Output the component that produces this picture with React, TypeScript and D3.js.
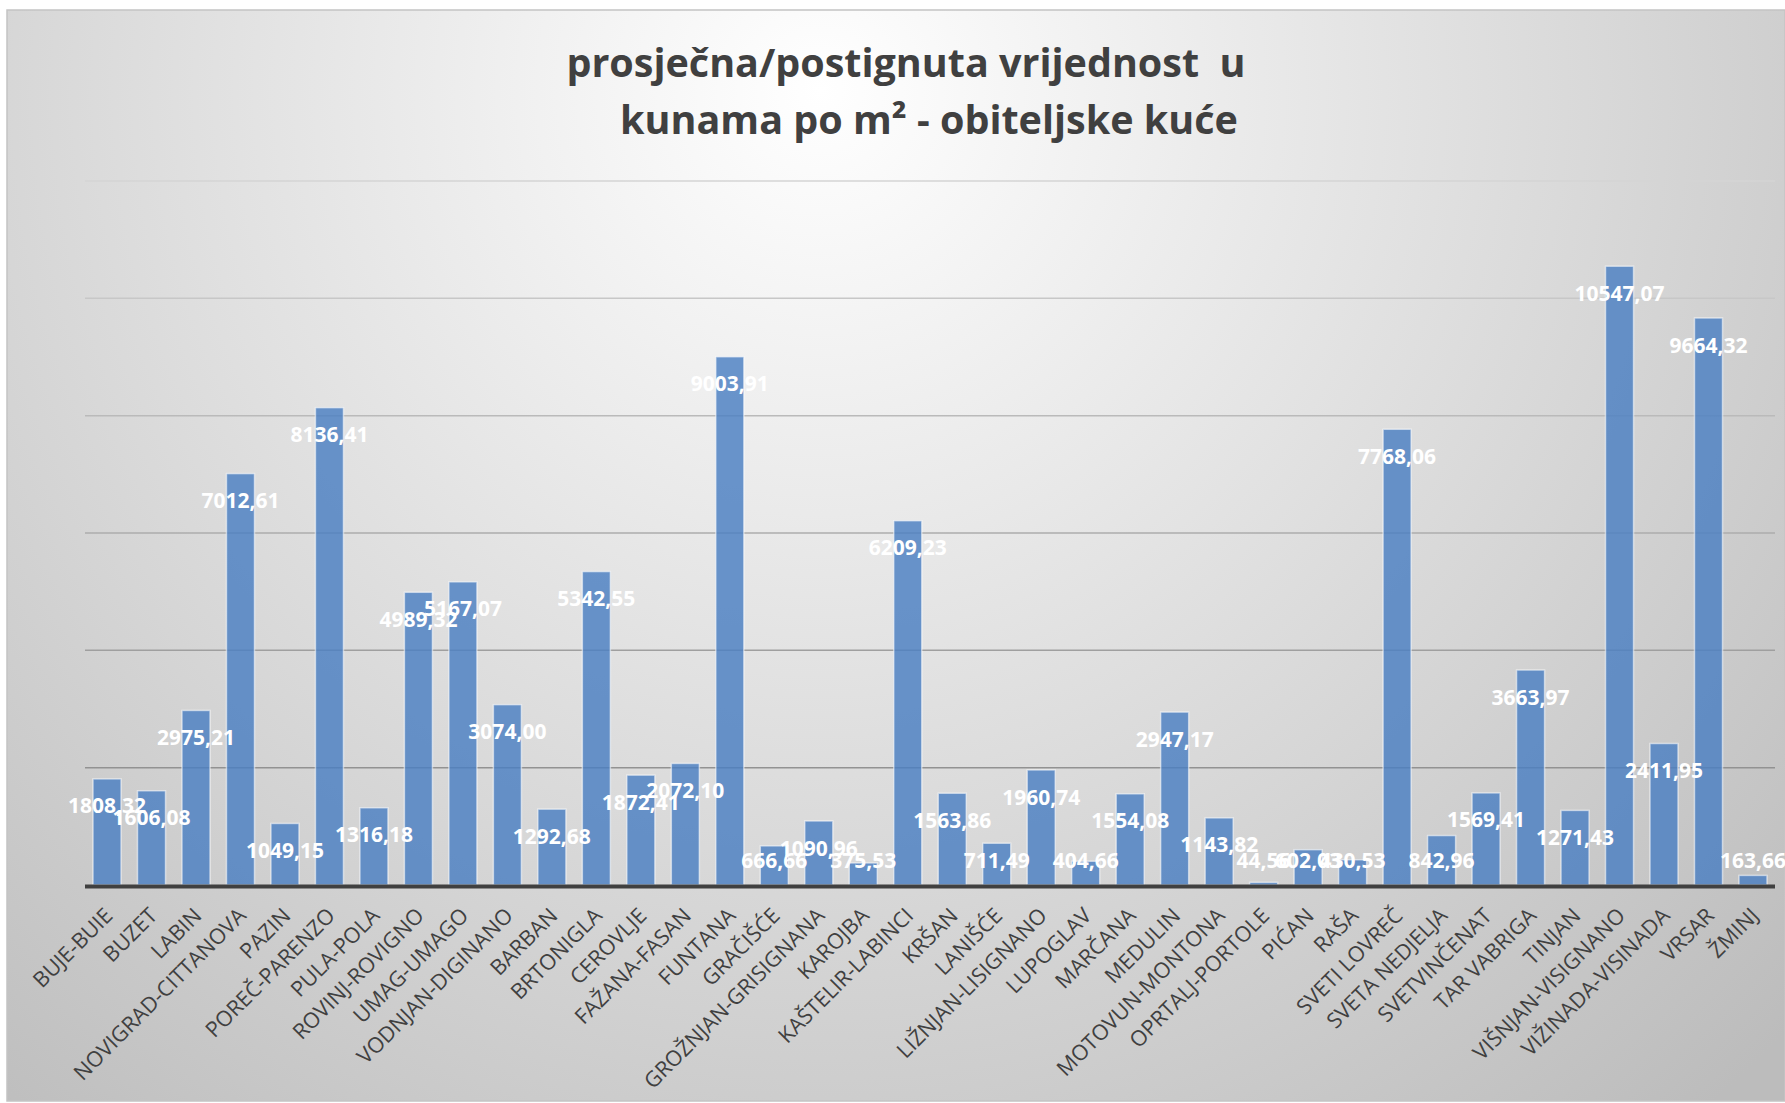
import React, { useEffect, useRef } from "react";
import * as d3 from "d3";

const municipalities = [
  "BUJE-BUIE", "BUZET", "LABIN", "NOVIGRAD-CITTANOVA", "PAZIN", "POREČ-PARENZO",
  "PULA-POLA", "ROVINJ-ROVIGNO", "UMAG-UMAGO", "VODNJAN-DIGINANO", "BARBAN",
  "BRTONIGLA", "CEROVLJE", "FAŽANA-FASAN", "FUNTANA", "GRAČIŠĆE",
  "GROŽNJAN-GRISIGNANA", "KAROJBA", "KAŠTELIR-LABINCI", "KRŠAN", "LANIŠĆE",
  "LIŽNJAN-LISIGNANO", "LUPOGLAV", "MARČANA", "MEDULIN", "MOTOVUN-MONTONA",
  "OPRTALJ-PORTOLE", "PIĆAN", "RAŠA", "SVETI LOVREČ", "SVETA NEDJELJA",
  "SVETVINČENAT", "TAR VABRIGA", "TINJAN", "VIŠNJAN-VISIGNANO",
  "VIŽINADA-VISINADA", "VRSAR", "ŽMINJ"
];

const pricePerM2 = [
  1808.32, 1606.08, 2975.21, 7012.61, 1049.15, 8136.41,
  1316.18, 4989.32, 5167.07, 3074.0, 1292.68,
  5342.55, 1872.41, 2072.1, 9003.91, 666.66,
  1090.96, 375.53, 6209.23, 1563.86, 711.49,
  1960.74, 404.66, 1554.08, 2947.17, 1143.82,
  44.56, 602.03, 430.53, 7768.06, 842.96,
  1569.41, 3663.97, 1271.43, 10547.07,
  2411.95, 9664.32, 163.66
];

const yTicks = [0, 2000, 4000, 6000, 8000, 10000, 12000];

const titleLines = ["prosječna/postignuta vrijednost  u", "kunama po m² - obiteljske kuće"];

const W = 1785, H = 1103;
const plot = { left: 85, right: 1775, top: 181, bottom: 885 };

export default function App() {
  const svgRef = useRef(null);

  useEffect(() => {
    const svg = d3.select(svgRef.current);
    svg.selectAll("*").remove();

    const defs = svg.append("defs");
    const bg = defs.append("radialGradient")
      .attr("id", "bgGrad")
      .attr("gradientUnits", "userSpaceOnUse")
      .attr("cx", 820).attr("cy", 90).attr("r", 1350);
    bg.append("stop").attr("offset", 0).attr("stop-color", "#ffffff");
    bg.append("stop").attr("offset", 1).attr("stop-color", "#bcbcbc");

    svg.append("rect")
      .attr("x", 7).attr("y", 10)
      .attr("width", W - 7).attr("height", H - 12)
      .attr("fill", "url(#bgGrad)")
      .attr("stroke", "#c4c4c4")
      .attr("stroke-width", 1.5);

    const x = d3.scaleBand()
      .domain(municipalities)
      .range([plot.left, plot.right])
      .paddingInner(0.37)
      .paddingOuter(0.18);
    const y = d3.scaleLinear()
      .domain([0, 12000])
      .range([plot.bottom, plot.top]);

    // gridlines get lighter towards the top
    const gridColor = d3.scaleLinear<string>()
      .domain([0, 12000])
      .range(["#858585", "#d4d4d4"])
      .interpolate(d3.interpolateRgb);

    svg.append("g")
      .selectAll("line")
      .data(yTicks.filter(t => t > 0))
      .join("line")
      .attr("x1", plot.left).attr("x2", plot.right)
      .attr("y1", d => y(d)).attr("y2", d => y(d))
      .attr("stroke", d => gridColor(d))
      .attr("stroke-width", 1.5);

    svg.append("g")
      .selectAll("rect")
      .data(pricePerM2)
      .join("rect")
      .attr("x", (d, i) => x(municipalities[i]))
      .attr("y", d => y(d))
      .attr("width", x.bandwidth())
      .attr("height", d => plot.bottom - y(d))
      .attr("fill", "#4a7fc2")
      .attr("fill-opacity", 0.82)
      .attr("stroke", "rgba(255,255,255,0.55)")
      .attr("stroke-width", 1.5);

    // x axis line
    svg.append("line")
      .attr("x1", plot.left).attr("x2", plot.right)
      .attr("y1", plot.bottom + 1.5).attr("y2", plot.bottom + 1.5)
      .attr("stroke", "#404040")
      .attr("stroke-width", 4);

    svg.append("g")
      .selectAll("text")
      .data(municipalities)
      .join("text")
      .attr("transform", d => `translate(${x(d) + x.bandwidth() / 2 + 7},${plot.bottom + 32}) rotate(-45)`)
      .attr("text-anchor", "end")
      .attr("font-family", "'Open Sans', sans-serif")
      .attr("font-size", 21.5)
      .attr("fill", "#404040")
      .text(d => d);

    svg.append("g")
      .selectAll("text")
      .data(pricePerM2)
      .join("text")
      .attr("x", (d, i) => x(municipalities[i]) + x.bandwidth() / 2)
      .attr("y", d => Math.min(y(d) + 27, plot.bottom - 25))
      .attr("dy", "0.36em")
      .attr("text-anchor", "middle")
      .attr("font-family", "'Open Sans', sans-serif")
      .attr("font-weight", 700)
      .attr("font-size", 21)
      .attr("fill", "#ffffff")
      .text(d => d3.format(".2f")(d).replace(".", ","));

    const title = svg.append("g")
      .attr("font-family", "'Open Sans', sans-serif")
      .attr("font-weight", 700)
      .attr("font-size", 39.5)
      .attr("fill", "#404040")
      .attr("text-anchor", "middle");
    title.append("text").attr("x", 906).attr("y", 77).attr("xml:space", "preserve").text(titleLines[0]);
    title.append("text").attr("x", 929).attr("y", 134).text(titleLines[1]);
  }, []);

  return (
    <div style={{ position: "absolute", left: 0, top: 0 }}>
      <svg ref={svgRef} width={W} height={H} style={{ display: "block", background: "#ffffff" }}></svg>
    </div>
  );
}
